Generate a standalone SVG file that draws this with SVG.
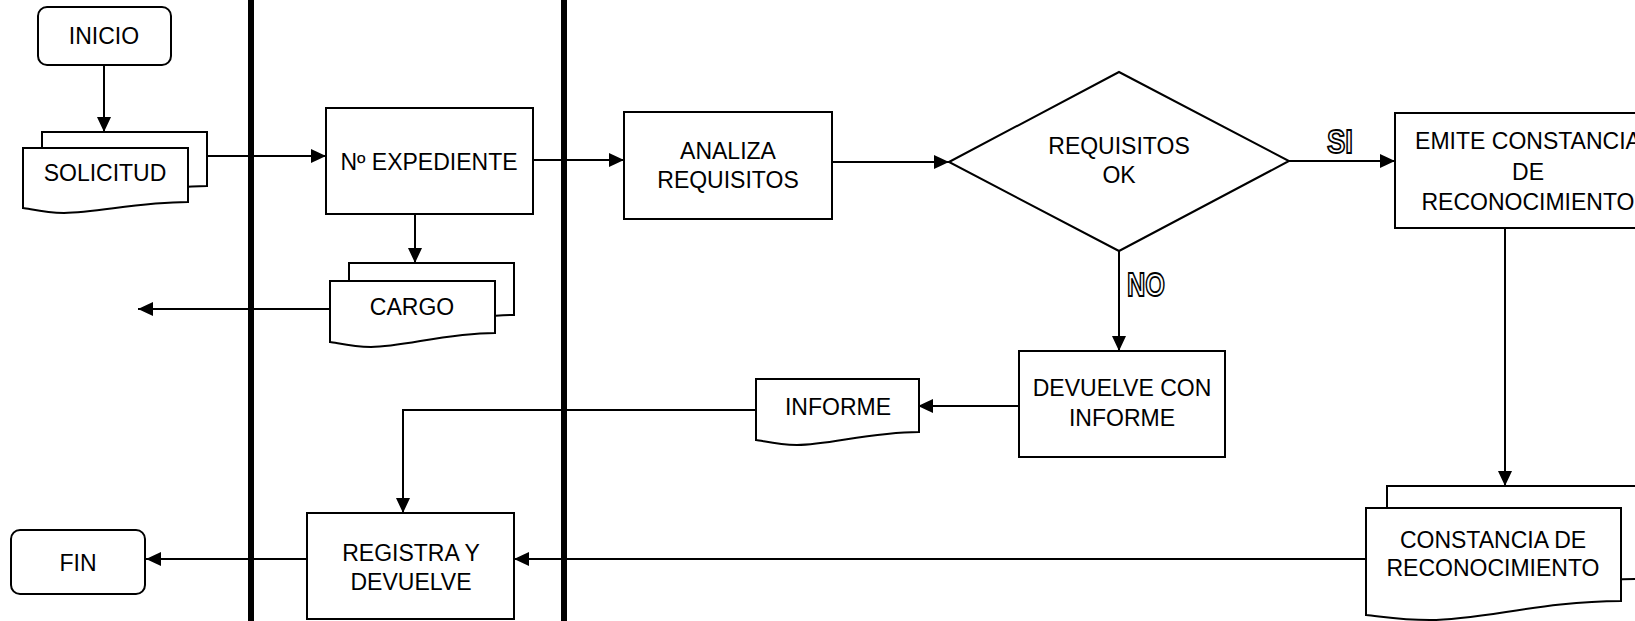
<svg xmlns="http://www.w3.org/2000/svg" width="1635" height="621" viewBox="0 0 1635 621">
<style>
.s{fill:#fff;stroke:#000;stroke-width:2}
.c{fill:none;stroke:#000;stroke-width:2}
.lane{stroke:#000;stroke-width:6}
.t{font-family:"Liberation Sans",Arial,sans-serif;font-size:23px;text-anchor:middle;fill:#000}
.o{font-family:"Liberation Sans",Arial,sans-serif;font-size:33px;font-weight:bold;text-anchor:middle;fill:#fff;stroke:#000;stroke-width:1.8}
</style>
<defs>
<marker id="ar" markerUnits="userSpaceOnUse" markerWidth="15" markerHeight="14" refX="15" refY="7" orient="auto">
<path d="M0,0 L15,7 L0,14 Z" fill="#000"/>
</marker>
</defs>
<g id="lanes">
<line class="lane" x1="251" y1="0" x2="251" y2="621"/>
<line class="lane" x1="564" y1="0" x2="564" y2="621"/>
</g>
<g id="connectors">
<path class="c" d="M104,65 V132" marker-end="url(#ar)"/>
<path class="c" d="M207,156 H326" marker-end="url(#ar)"/>
<path class="c" d="M415,214 V263" marker-end="url(#ar)"/>
<path class="c" d="M330,309 H138" marker-end="url(#ar)"/>
<path class="c" d="M533,160 H624" marker-end="url(#ar)"/>
<path class="c" d="M832,162 H949" marker-end="url(#ar)"/>
<path class="c" d="M1289,161 H1395" marker-end="url(#ar)"/>
<path class="c" d="M1505,228 V486" marker-end="url(#ar)"/>
<path class="c" d="M1119,251 V351" marker-end="url(#ar)"/>
<path class="c" d="M1019,406 H918" marker-end="url(#ar)"/>
<path class="c" d="M756,410 H403 V513" marker-end="url(#ar)"/>
<path class="c" d="M1366,559 H514" marker-end="url(#ar)"/>
<path class="c" d="M307,559 H146" marker-end="url(#ar)"/>
</g>
<g id="inicio">
<rect class="s" x="38" y="7" width="133" height="58" rx="9"/>
<text class="t" x="104" y="44">INICIO</text>
</g>
<g id="solicitud">
<path class="s" d="M42,132 H207 V186 C157,186 116,197 83,197 C63,197 50,193 42,192 Z"/>
<path class="s" d="M23,148 H188 V202 C138,202 97,213 64,213 C44,213 31,209 23,208 Z"/>
<text class="t" x="105" y="181">SOLICITUD</text>
</g>
<g id="expediente">
<rect class="s" x="326" y="108" width="207" height="106"/>
<text class="t" x="429" y="170">Nº EXPEDIENTE</text>
</g>
<g id="cargo">
<path class="s" d="M349,263 H514 V315 C464,315 423,329 390,329 C370,329 357,325 349,324 Z"/>
<path class="s" d="M330,281 H495 V333 C445,333 404,347 371,347 C351,347 338,343 330,342 Z"/>
<text class="t" x="412" y="315">CARGO</text>
</g>
<g id="analiza">
<rect class="s" x="624" y="112" width="208" height="107"/>
<text class="t" x="728" y="159">ANALIZA</text>
<text class="t" x="728" y="188">REQUISITOS</text>
</g>
<g id="decision">
<path class="s" d="M949,162 L1119,72 L1289,161 L1119,251 Z"/>
<text class="t" x="1119" y="154">REQUISITOS</text>
<text class="t" x="1119" y="183">OK</text>
</g>
<g id="label-si">
<text class="o" x="1340" y="153" textLength="26" lengthAdjust="spacingAndGlyphs">SI</text>
</g>
<g id="label-no">
<text class="o" x="1146" y="296" textLength="38" lengthAdjust="spacingAndGlyphs">NO</text>
</g>
<g id="emite">
<rect class="s" x="1395" y="113" width="266" height="115"/>
<text class="t" x="1528" y="149">EMITE CONSTANCIA</text>
<text class="t" x="1528" y="180">DE</text>
<text class="t" x="1528" y="210">RECONOCIMIENTO</text>
</g>
<g id="devuelve">
<rect class="s" x="1019" y="351" width="206" height="106"/>
<text class="t" x="1122" y="396">DEVUELVE CON</text>
<text class="t" x="1122" y="426">INFORME</text>
</g>
<g id="informe">
<path class="s" d="M756,379 H919 V432 C870,432 829,445 797,445 C777,445 764,441 756,440 Z"/>
<text class="t" x="838" y="415">INFORME</text>
</g>
<g id="registra">
<rect class="s" x="307" y="513" width="207" height="106"/>
<text class="t" x="411" y="561">REGISTRA Y</text>
<text class="t" x="411" y="590">DEVUELVE</text>
</g>
<g id="fin">
<rect class="s" x="11" y="530" width="134" height="64" rx="9"/>
<text class="t" x="78" y="571">FIN</text>
</g>
<g id="constancia">
<path class="s" d="M1387,486 H1642 V579 C1565,579 1502,598 1451,598 C1420,598 1400,594 1387,593 Z"/>
<path class="s" d="M1366,508 H1621 V601 C1544,601 1481,620 1430,620 C1399,620 1379,616 1366,615 Z"/>
<text class="t" x="1493" y="548">CONSTANCIA DE</text>
<text class="t" x="1493" y="576">RECONOCIMIENTO</text>
</g>
</svg>
